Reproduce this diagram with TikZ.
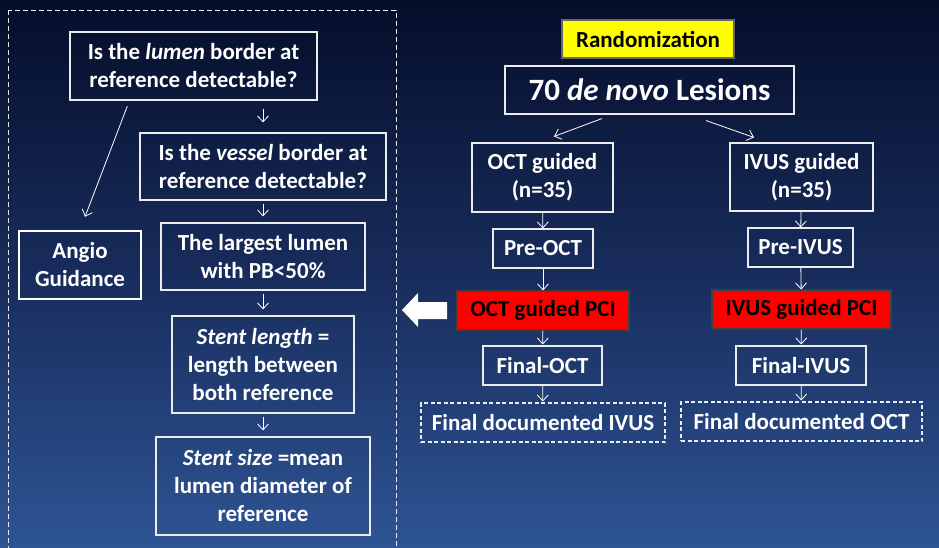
\documentclass[tikz,border=0pt]{standalone}
\usepackage{fontspec}
\setmainfont{Carlito}
\usetikzlibrary{arrows.meta,calc}
\definecolor{navytop}{RGB}{5,14,42}
\definecolor{navymid}{RGB}{24,44,92}
\definecolor{navybot}{RGB}{46,84,148}
\definecolor{pcired}{RGB}{255,0,0}
\definecolor{randyel}{RGB}{255,255,0}
\tikzset{
	box/.style={draw=white!85!gray, line width=1.1pt, text=white, align=center,
		inner sep=0pt, font=\bfseries\fontsize{23}{28}\selectfont},
	docbox/.style={box, dash pattern=on 4pt off 2.5pt},
	pcibox/.style={box, draw=black!75, fill=pcired, text=black},
	flow/.style={draw=white, line width=0.8pt, -{Straight Barb[length=6pt,width=11pt]}},
	gap/.style={shorten <=3pt, shorten >=6pt},
}
\begin{document}
\begin{tikzpicture}[x=1pt,y=-1pt]
	\useasboundingbox (0,0) rectangle (939,547);
	% background
	\shade[top color=navytop, bottom color=navybot, middle color=navymid] (0,0) rectangle (939,547);
	\begin{scope}
		\clip (0,0) rectangle (939,547);
		\draw[white!85!gray, line width=1pt, dash pattern=on 5pt off 3pt] (8,10) rectangle (396,560);
	\end{scope}

	% left: reference selection
	\node[box, minimum width=247pt, minimum height=68pt] (q1) at (193.5,66)
		{Is the \textit{lumen} border at\\reference detectable?};
	\node[box, minimum width=246pt, minimum height=67pt] (q2) at (263,166.5)
		{Is the \textit{vessel} border at\\reference detectable?};
	\node[box, minimum width=204pt, minimum height=67pt] (largest) at (263,256.5)
		{The largest lumen\\with PB<50\%};
	\node[box, line width=2.2pt, draw=white, minimum width=122pt, minimum height=68pt] (angio) at (80,265)
		{Angio\\Guidance};
	\node[box, minimum width=182pt, minimum height=97pt] (slen) at (263,364.5)
		{\textit{Stent length} =\\length between\\both reference};
	\node[box, minimum width=214pt, minimum height=98pt] (ssize) at (263,486)
		{\textit{Stent size} =mean\\lumen diameter of\\reference};

	\draw[flow, shorten <=8pt, shorten >=10pt] (q2.north |- q1.south) -- (q2.north);
	\draw[flow, gap] (q2) -- (largest);
	\draw[flow, gap] (largest) -- (slen);
	\draw[flow, gap] (slen) -- (ssize);
	\draw[flow, shorten <=6pt, shorten >=14pt] ($(q1.south west)+(60,0)$) -- (angio.north);

	% right: randomized arms
	\node[box, draw=black!60, fill=randyel, text=black, minimum width=172pt, minimum height=38pt]
		(rand) at (648,39) {Randomization};
	\node[box, minimum width=289pt, minimum height=48pt, font=\bfseries\fontsize{31}{36}\selectfont]
		(lesions) at (649.5,90) {70 \textit{de novo} Lesions};
	\node[box, minimum width=141pt, minimum height=69pt] (octg) at (542.5,177.5) {OCT guided\\(n=35)};
	\node[box, minimum width=143pt, minimum height=68pt] (ivusg) at (801.5,177) {IVUS guided\\(n=35)};
	\node[box, minimum width=100pt, minimum height=39pt] (preoct) at (543,248.5) {Pre-OCT};
	\node[box, minimum width=105pt, minimum height=39pt] (preivus) at (800.5,247.5) {Pre-IVUS};
	\node[pcibox, minimum width=172pt, minimum height=39pt] (octpci) at (543,310.5) {OCT guided PCI};
	\node[pcibox, minimum width=179pt, minimum height=39pt] (ivuspci) at (801.5,309.5) {IVUS guided PCI};
	\node[box, minimum width=119pt, minimum height=39pt] (finoct) at (542.5,365.5) {Final-OCT};
	\node[box, minimum width=130pt, minimum height=39pt] (finivus) at (801,365.5) {Final-IVUS};
	\node[docbox, minimum width=244pt, minimum height=39pt] (docivus) at (543,422.5) {Final documented IVUS};
	\node[docbox, minimum width=241pt, minimum height=39pt] (dococt) at (801.5,421.5) {Final documented OCT};

	\draw[flow] ($(lesions.south)+(-47.5,4)$) -- ($(octg.north)+(11.5,-6)$);
	\draw[flow] ($(lesions.south)+(56.5,6)$) -- ($(ivusg.north)+(-47.5,-5)$);
	\draw[flow] (octg) -- (preoct);
	\draw[flow] (preoct) -- (octpci);
	\draw[flow, shorten >=1pt] (octpci) -- (finoct);
	\draw[flow, shorten >=1pt] (finoct) -- (docivus);
	\draw[flow] (ivusg) -- (preivus);
	\draw[flow] (preivus) -- (ivuspci);
	\draw[flow, shorten >=1pt] (ivuspci) -- (finivus);
	\draw[flow, shorten >=1pt] (finivus) -- (dococt);

	% block arrow back to the left panel
	\fill[white] (402,310) -- (418,293) -- (418,302) -- (447,302) -- (447,319)
		-- (418,319) -- (418,327) -- cycle;
\end{tikzpicture}
\end{document}
